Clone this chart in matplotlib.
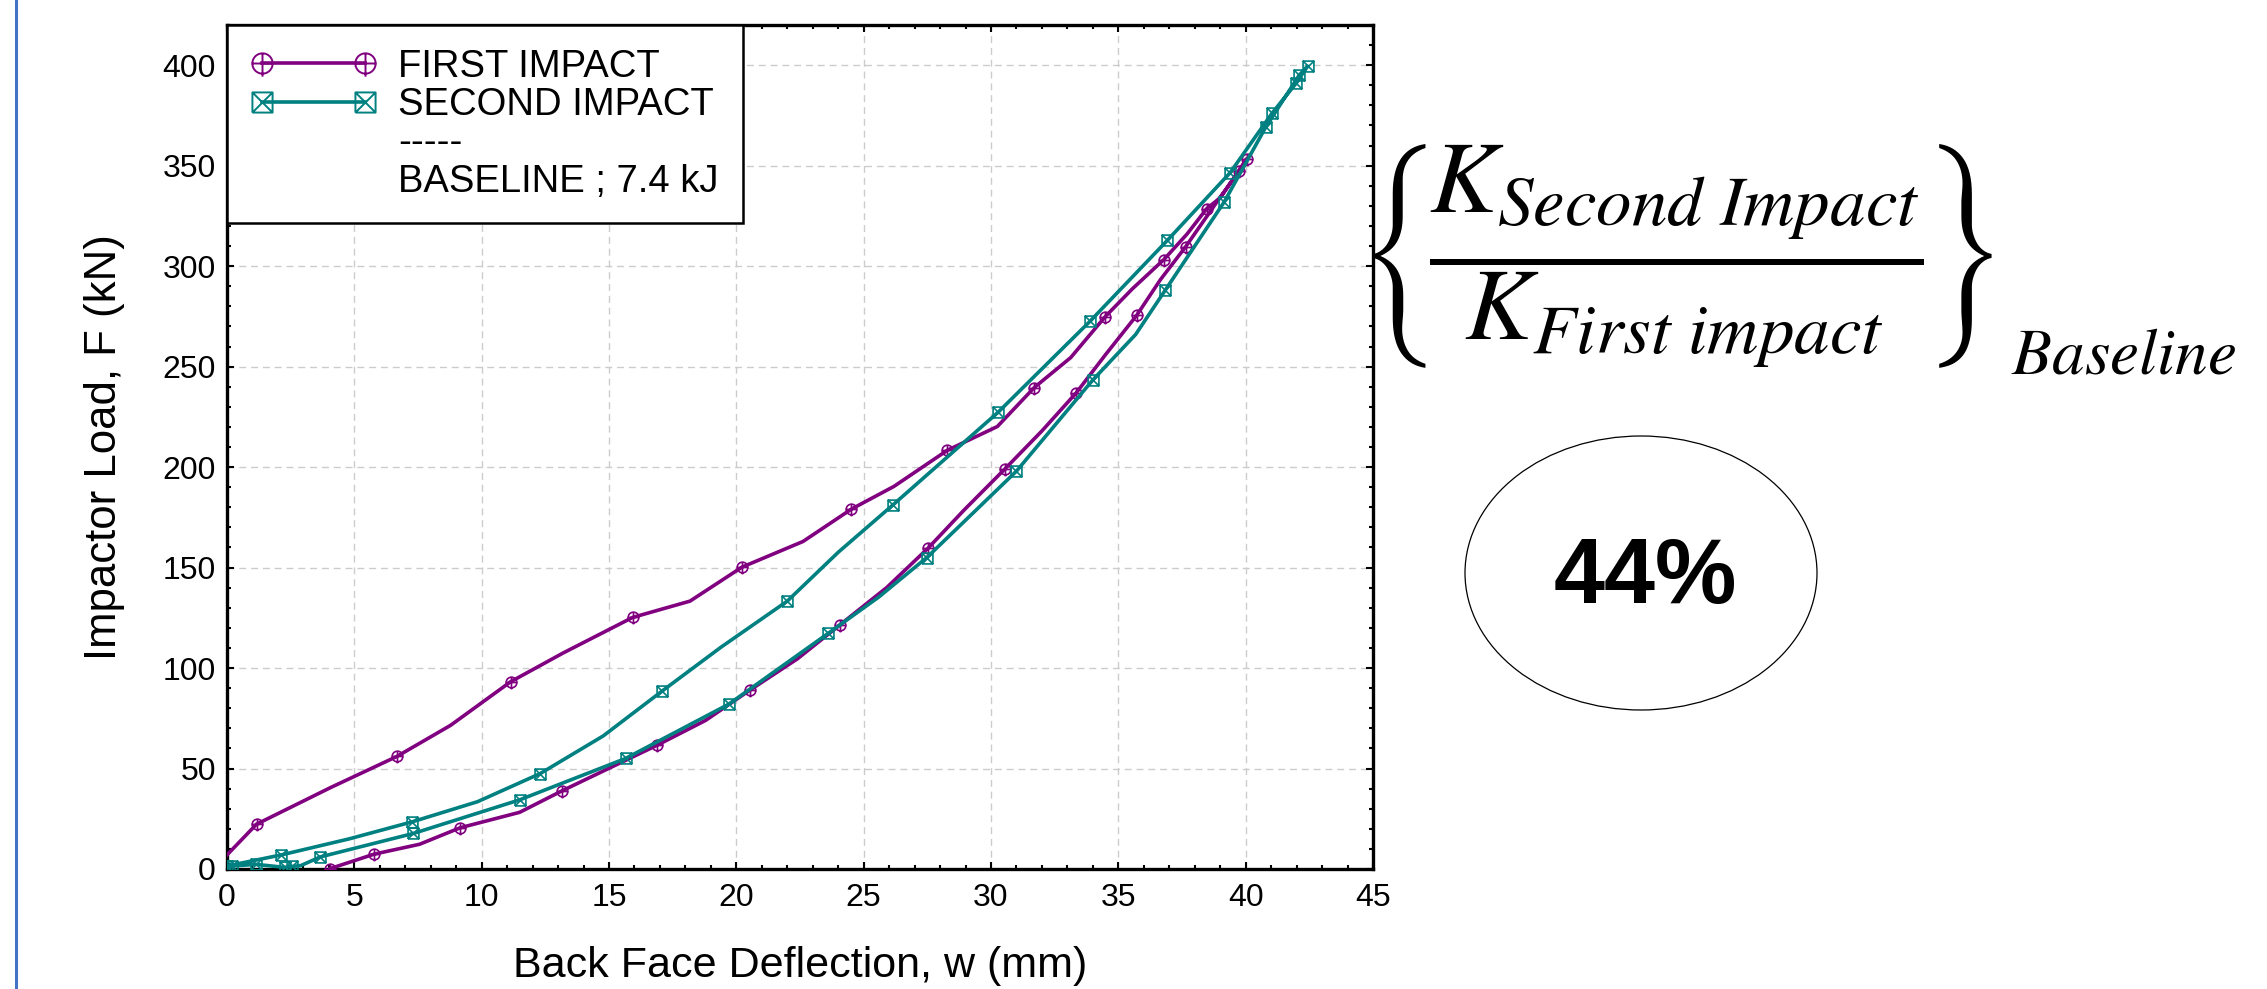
import matplotlib
matplotlib.use("Agg")
import matplotlib.pyplot as plt
from matplotlib.path import Path
from matplotlib.patches import Ellipse
from matplotlib.lines import Line2D
from matplotlib.ticker import MultipleLocator

# ---------------- data ----------------
first_x = [0.0, 1.16, 4.08, 6.67, 8.78, 11.14, 13.2, 15.93, 18.18, 20.22, 22.62, 24.52,
           26.19, 28.29, 30.25, 31.7, 33.13, 34.48, 35.55, 36.79, 37.7, 38.47, 39.0, 40.05,
           39.74, 38.95, 37.64, 36.66, 35.72, 34.5, 33.35, 32.0, 30.54, 28.94, 27.54, 25.9,
           24.07, 22.4, 20.52, 18.8, 16.89, 14.93, 13.14, 11.49, 9.15, 7.56, 5.78, 4.05]
first_y = [7.0, 22.3, 40.6, 56.0, 71.5, 93.2, 107.5, 125.2, 133.3, 150.2, 163.0, 179.1,
           190.4, 208.4, 220.2, 239.6, 254.5, 274.8, 288.7, 303.3, 316.0, 328.6, 334.0, 353.5,
           347.2, 333.4, 309.6, 293.4, 275.5, 256.0, 237.0, 218.0, 199.0, 178.6, 159.8, 140.0,
           121.5, 104.6, 88.9, 74.0, 61.6, 49.7, 38.8, 28.2, 20.5, 12.3, 7.4, 0.2]
first_marked = [1, 3, 5, 7, 9, 11, 13, 15, 17, 19, 21, 23, 24, 26, 28, 30, 32, 34, 36,
                38, 40, 42, 44, 46, 47]

second_x = [0.0, 2.13, 4.8, 7.28, 9.84, 12.3, 14.77, 17.07, 19.4, 22.0, 24.0, 26.16, 30.28,
            33.89, 36.93, 39.39, 41.03, 41.98, 42.43, 42.1, 40.78, 39.16, 36.84, 35.68, 34.0,
            31.0, 29.2, 27.48, 25.6, 23.6, 19.7, 15.65, 11.49, 7.32, 3.66, 2.9, 2.57, 2.27,
            1.14, 0.2, -0.2]
second_y = [1.5, 7.0, 15.0, 23.5, 33.5, 47.5, 66.2, 88.4, 110.4, 133.3, 157.6, 181.3, 227.3,
            272.6, 312.9, 346.5, 376.0, 391.0, 399.5, 395.0, 369.0, 332.0, 288.0, 266.0, 243.4,
            198.0, 176.0, 155.0, 135.4, 117.2, 82.0, 55.0, 34.4, 17.7, 6.0, 1.7, 1.3, 0.8,
            2.3, 1.5, -0.5]
second_marked = [0, 1, 3, 5, 7, 9, 11, 12, 13, 14, 15, 16, 17, 18, 19, 20, 21, 22, 24, 25,
                 27, 29, 30, 31, 32, 33, 34, 36, 37, 38, 39]

x_ticks = [0, 5, 10, 15, 20, 25, 30, 35, 40, 45]
y_ticks = [0, 50, 100, 150, 200, 250, 300, 350, 400]
legend_labels = ["FIRST IMPACT", "SECOND IMPACT", "-----", "BASELINE ; 7.4 kJ"]
x_label = "Back Face Deflection, w (mm)"
y_label = "Impactor Load, F (kN)"
ratio_formula = r"$\left\{\!\dfrac{K_{Second\ Impact}}{K_{First\ impact}}\!\right\}$"
ratio_subscript = r"$Baseline$"
ratio_value = "44%"

# ---------------- style ----------------
plt.rcParams['font.family'] = ['Liberation Sans', 'DejaVu Sans']
plt.rcParams['mathtext.fontset'] = 'stix'

C_FIRST = '#800080'
C_SECOND = '#008080'
W, H = 2267, 989

fig = plt.figure(figsize=(W / 100, H / 100), dpi=100)
ax = fig.add_axes([227 / W, 1 - 869 / H, (1373 - 227) / W, (869 - 25) / H])

MV, LN = Path.MOVETO, Path.LINETO
oplus = Path.make_compound_path(
    Path.unit_circle(),
    Path([[-1.05, 0], [1.05, 0], [0, -1.3], [0, 1.0]], [MV, LN, MV, LN]))
boxx = Path([[-1, -1], [1, -1], [1, 1], [-1, 1], [-1, -1],
             [-1, -1], [1, 1], [-1, 1], [1, -1]],
            [MV, LN, LN, LN, LN, MV, LN, MV, LN])

line_kw = dict(lw=2.6, mfc='none', solid_joinstyle='round', zorder=3)
ax.plot(first_x, first_y, color=C_FIRST, marker=oplus, ms=10, mec=C_FIRST, mew=1.2,
        markevery=first_marked, **line_kw)
ax.plot(second_x, second_y, color=C_SECOND, marker=boxx, ms=7.8, mec=C_SECOND, mew=1.2,
        markevery=second_marked, **line_kw)

ax.set_xlim(0, 45)
ax.set_ylim(0, 420)
ax.set_xticks(x_ticks)
ax.set_yticks(y_ticks)
ax.xaxis.set_minor_locator(MultipleLocator(1))
ax.yaxis.set_minor_locator(MultipleLocator(10))
ax.tick_params(which='both', direction='in', top=True, right=True, width=1.5, labelsize=23)
ax.tick_params(which='major', length=4.8)
ax.tick_params(which='minor', length=3.2)
ax.tick_params(axis='x', pad=10)
ax.tick_params(axis='y', pad=8)
for s in ax.spines.values():
    s.set_linewidth(2.4)
ax.grid(True, which='major', color='#cccccc', ls=(0, (5, 3.5)), lw=1.0)
ax.set_axisbelow(True)

ax.set_xlabel(x_label, fontsize=31, va='center')
ax.xaxis.set_label_coords(0.5, -0.115)
ax.set_ylabel(y_label, fontsize=31.5, va='center')
ax.yaxis.set_label_coords(-0.1065, 0.5)

# legend (proxy handles)
h1 = Line2D([], [], color=C_FIRST, lw=2.6, marker=oplus, ms=19, mfc='none', mec=C_FIRST, mew=1.4)
h2 = Line2D([], [], color=C_SECOND, lw=2.6, marker=boxx, ms=14.5, mfc='none', mec=C_SECOND, mew=1.4)
blank = Line2D([], [], linestyle='none', marker='none')
leg = ax.legend([h1, h2, blank, blank], legend_labels, loc='upper left',
                bbox_to_anchor=(0, 1), borderaxespad=0, numpoints=2, fontsize=27.5,
                frameon=True, fancybox=False, edgecolor='black', framealpha=1,
                borderpad=0.62, labelspacing=0.06, handlelength=3.3, handletextpad=0.57)
leg.get_frame().set_linewidth(1.8)

# right-hand annotation
fig.text(1676 / W, 1 - 256 / H, ratio_formula, fontsize=73, ha='center', va='center')
fig.text(2124 / W, 1 - 357 / H, ratio_subscript, fontsize=47, ha='center', va='center')
fig.add_artist(Ellipse((1641 / W, 1 - 573 / H), 352 / W, 274 / H, transform=fig.transFigure,
                       fill=False, edgecolor='black', lw=0.9))
fig.text(1645 / W, 1 - 603 / H, ratio_value, fontsize=66, fontweight='bold',
         ha='center', va='baseline')

# thin blue border line at left of the image
fig.add_artist(Line2D([15.5 / W, 15.5 / W], [0, 1], transform=fig.transFigure,
                      color='#4472C4', lw=2.2))

fig.savefig('out.png', dpi=100)
